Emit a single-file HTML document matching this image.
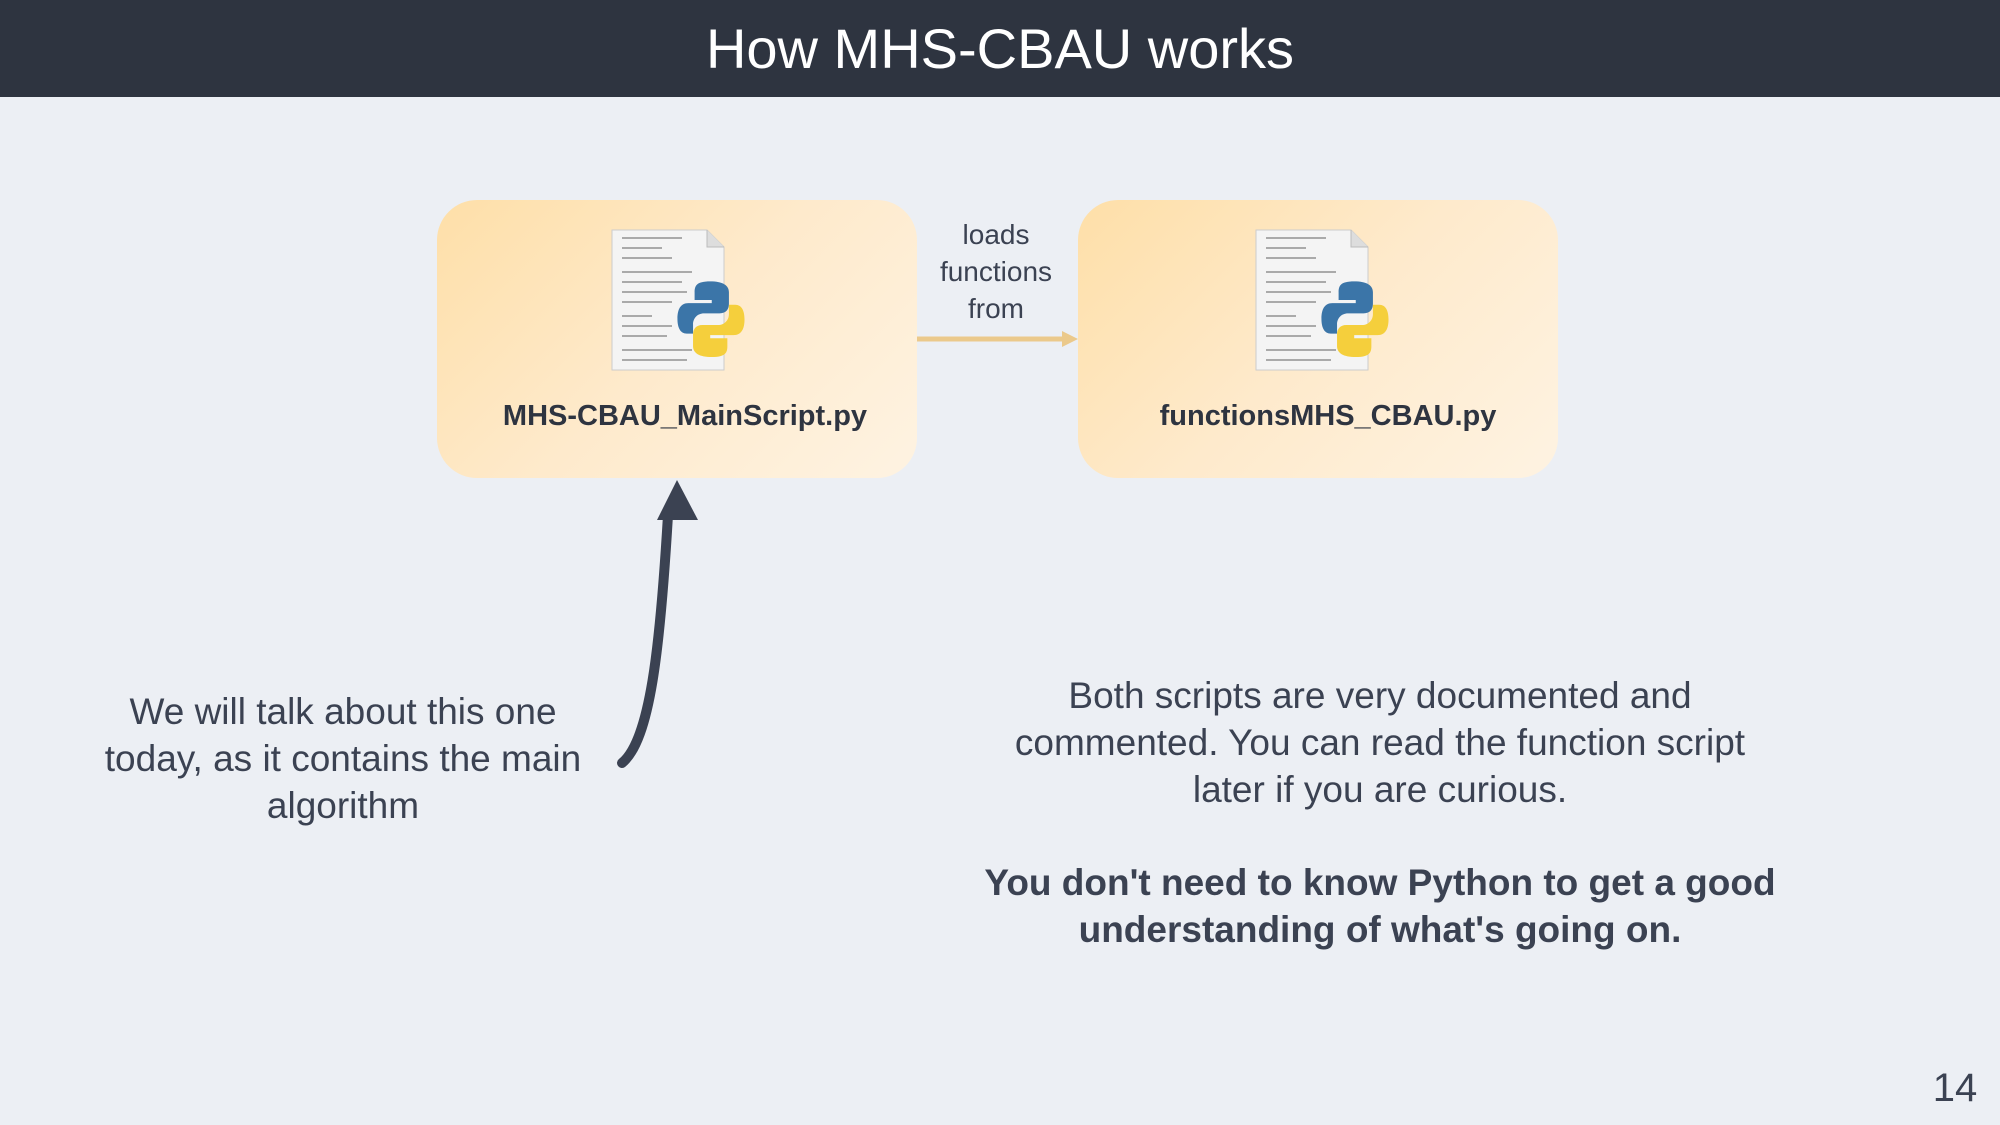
<!DOCTYPE html>
<html><head><meta charset="utf-8"><style>
body{margin:0;width:2000px;height:1125px;background:#eceff4;position:relative;overflow:hidden;font-family:"Liberation Sans",sans-serif;color:#3b4252}
.hdr{position:absolute;left:0;top:0;width:2000px;height:97px;background:#2e3440;color:#fff;font-size:56px;text-align:center;line-height:97px}
.box{position:absolute;top:200px;width:480px;height:278px;border-radius:40px;background:linear-gradient(135deg,#fedfa8 0%,#feeacc 50%,#fef3e2 100%)}
.fn{position:absolute;width:100%;top:200px;text-align:center;font-weight:bold;font-size:29px;color:#2e3440}
.t{position:absolute;text-align:center}
</style></head><body>
<div class="hdr">How MHS-CBAU works</div>
<div class="box" style="left:437px"><div class="fn" style="left:8px">MHS-CBAU_MainScript.py</div></div>
<div class="box" style="left:1078px"><div class="fn" style="left:10px">functionsMHS_CBAU.py</div></div>
<svg width="2000" height="1125" style="position:absolute;left:0;top:0">
<defs>
<g id="ic">
<path d="M0,0 H95 L112,17 V140 H0 Z" fill="#f4f4f4" stroke="#ccc"/>
<path d="M95,0 V17 H112" fill="#ddd" stroke="#bbb"/>
<g stroke="#aaa" stroke-width="2">
<line x1="10" y1="8" x2="70" y2="8"/><line x1="10" y1="18" x2="50" y2="18"/><line x1="10" y1="28" x2="60" y2="28"/>
<line x1="10" y1="42" x2="80" y2="42"/><line x1="10" y1="52" x2="70" y2="52"/><line x1="10" y1="62" x2="75" y2="62"/>
<line x1="10" y1="72" x2="60" y2="72"/><line x1="10" y1="86" x2="40" y2="86"/><line x1="10" y1="96" x2="60" y2="96"/>
<line x1="10" y1="106" x2="55" y2="106"/><line x1="10" y1="120" x2="80" y2="120"/><line x1="10" y1="130" x2="75" y2="130"/></g>
<g transform="translate(28,10) scale(0.78)">
<path d="M90,53 c-18,0 -20,6 -20,14 v10 h22 v4 h-30 c-10,0 -14,8 -14,20 c0,12 4,19 12,19 h8 v-12 c0,-8 6,-14 14,-14 h20 c8,0 12,-5 12,-12 v-15 c0,-9 -8,-14 -24,-14z" fill="#3b75a8"/>
<path d="M92,150 c18,0 20,-6 20,-14 v-10 h-22 v-4 h30 c10,0 14,-8 14,-20 c0,-12 -4,-19 -12,-19 h-8 v12 c0,8 -6,14 -14,14 h-20 c-8,0 -12,5 -12,12 v15 c0,9 8,14 24,14z" fill="#f5cf3c"/>
</g>
</g></defs>
<use href="#ic" x="612" y="230"/>
<use href="#ic" x="1256" y="230"/>
<line x1="917" y1="339" x2="1066" y2="339" stroke="#ebc98b" stroke-width="5"/>
<polygon points="1078,339 1062,331 1062,347" fill="#ebc98b"/>
<path d="M622,763 C650,740 660,650 668,515" fill="none" stroke="#3b4252" stroke-width="10" stroke-linecap="round"/>
<polygon points="677,480 657,520 698,520" fill="#3b4252"/>
</svg>
<div class="t" style="left:896px;width:200px;top:216px;font-size:28px;line-height:37px">loads<br>functions<br>from</div>
<div class="t" style="left:60px;width:566px;top:688px;font-size:37px;line-height:47px">We will talk about this one<br>today, as it contains the main<br>algorithm</div>
<div class="t" style="left:960px;width:840px;top:672px;font-size:37px;line-height:47px">Both scripts are very documented and<br>commented. You can read the function script<br>later if you are curious.</div>
<div class="t" style="left:960px;width:840px;top:859px;font-size:37px;line-height:47px;font-weight:bold">You don't need to know Python to get a good<br>understanding of what's going on.</div>
<div class="t" style="left:1920px;width:70px;top:1066px;font-size:40px">14</div>
</body></html>
